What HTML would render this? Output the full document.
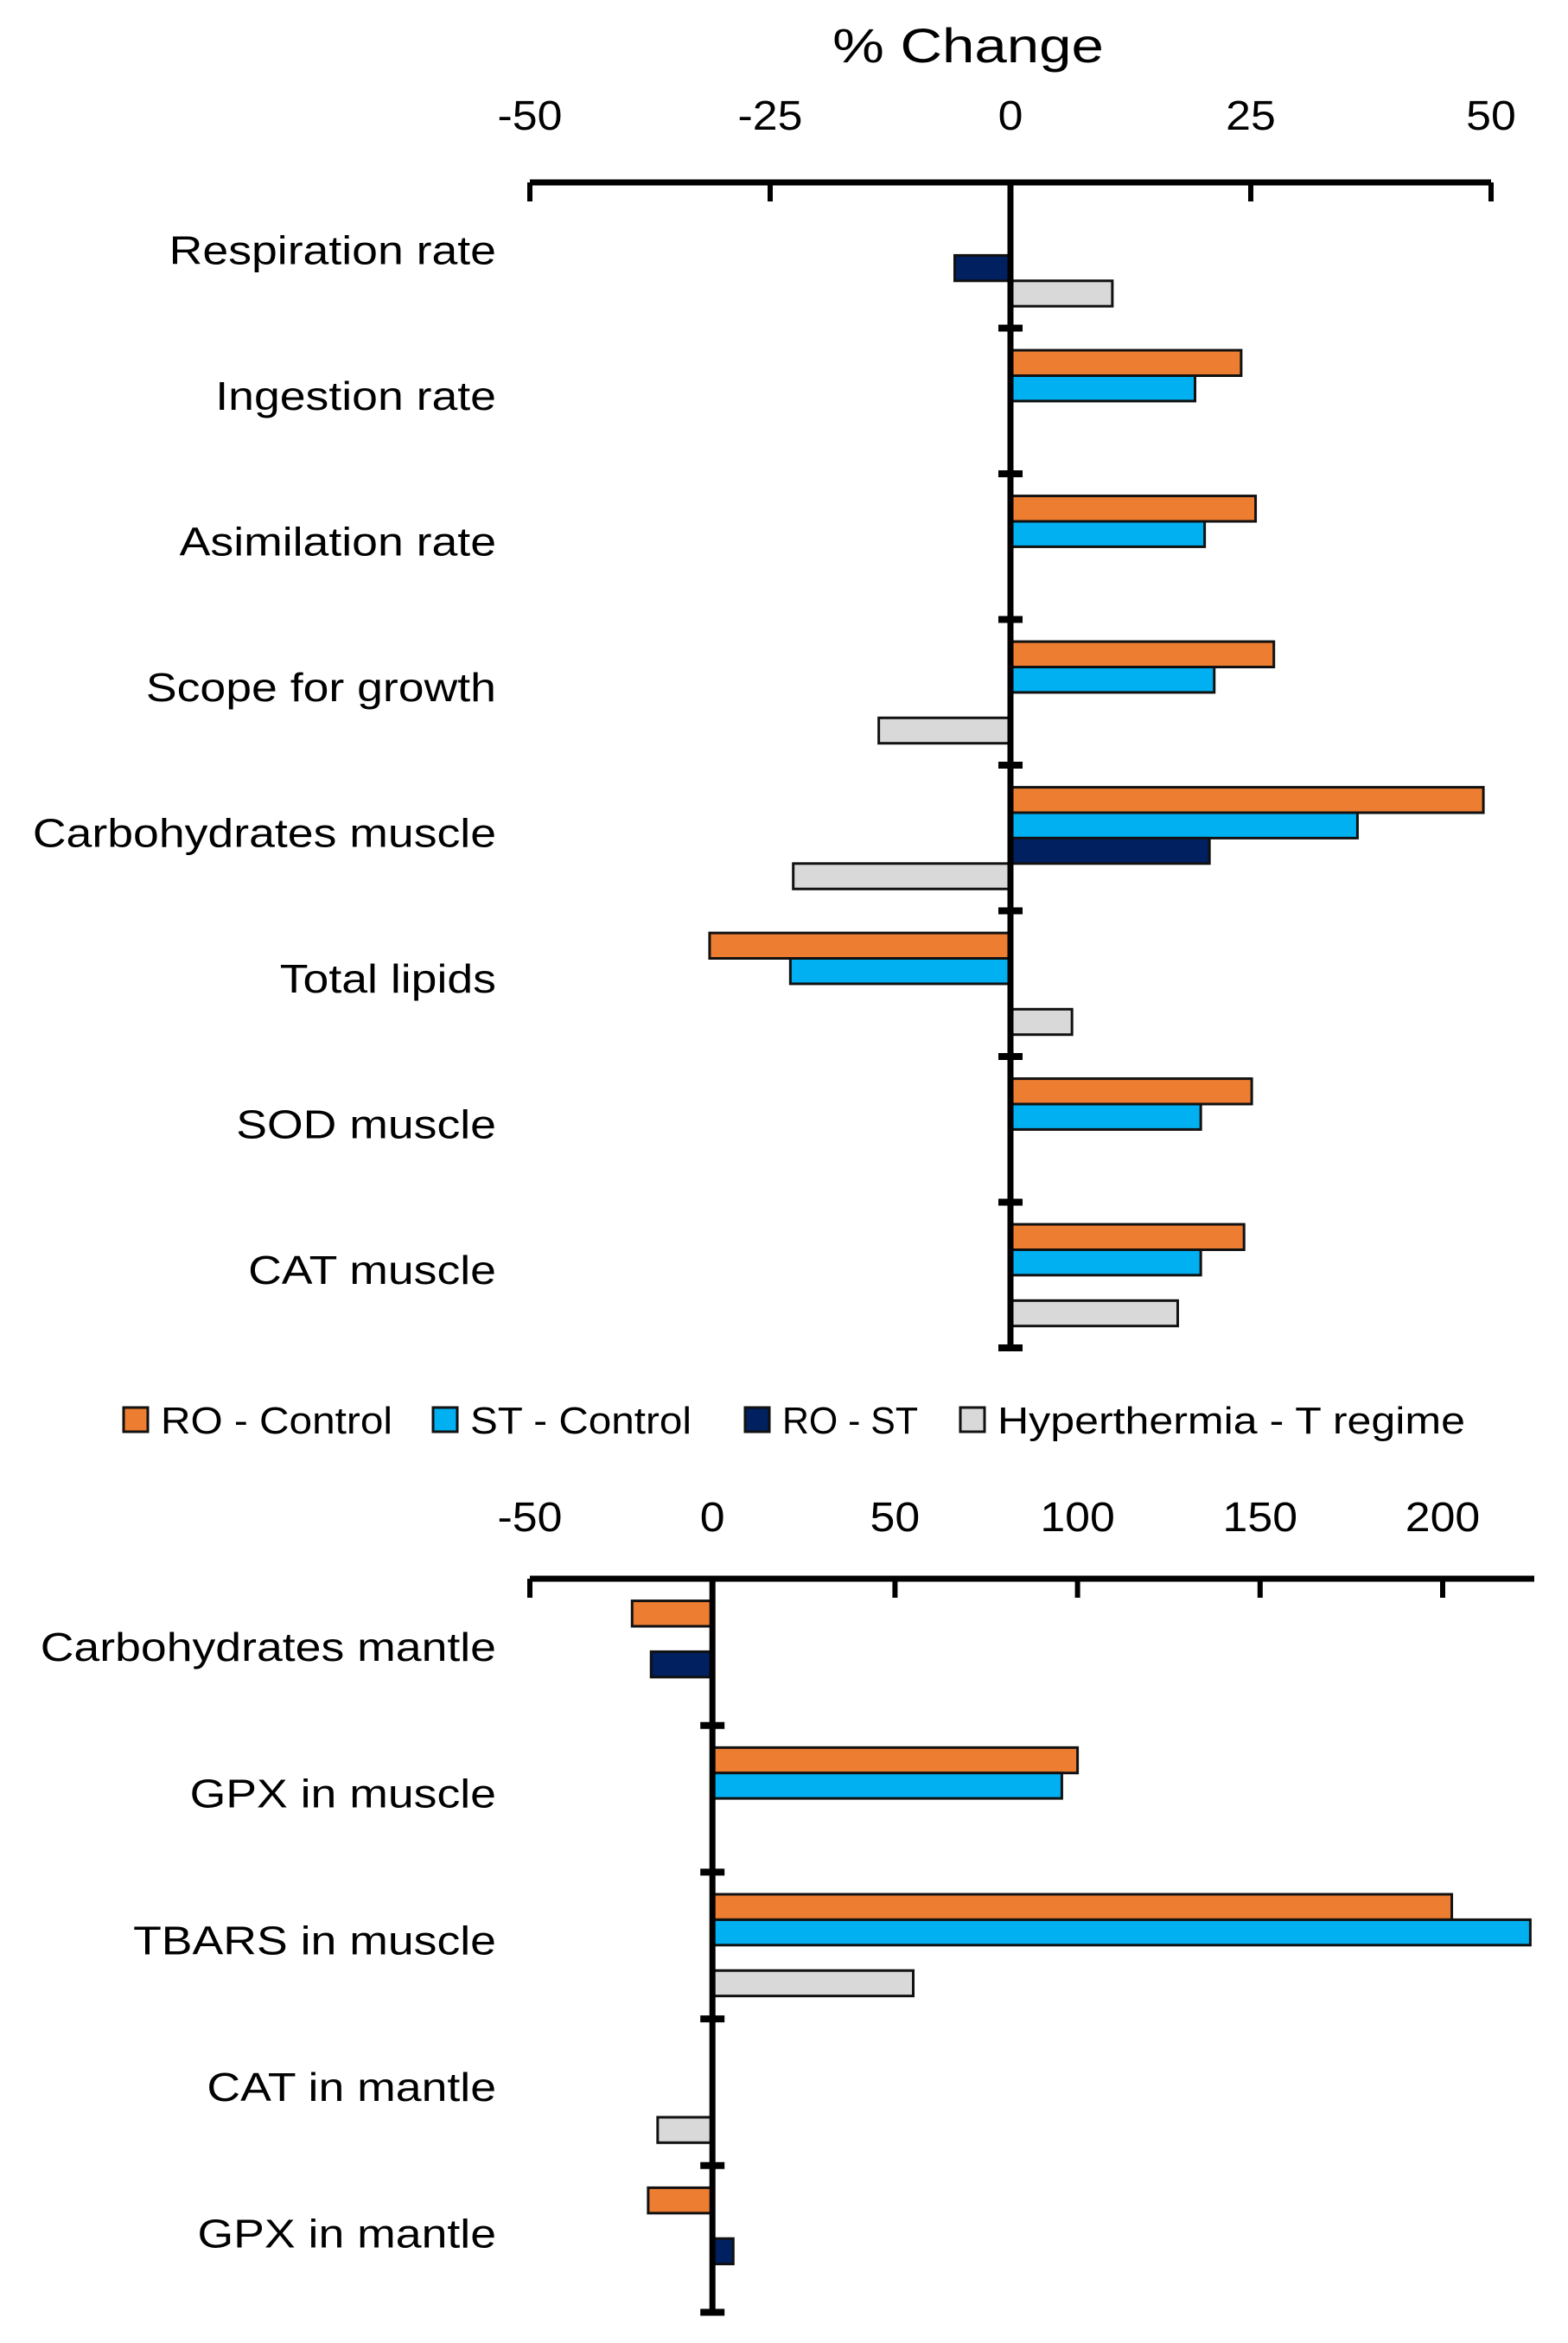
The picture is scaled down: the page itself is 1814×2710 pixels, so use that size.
<!DOCTYPE html>
<html><head><meta charset="utf-8"><style>
html,body{margin:0;padding:0;background:#fff;}
svg{display:block;font-family:"Liberation Sans",sans-serif;}
</style></head><body>
<svg id="chart" width="1814" height="2710" viewBox="0 0 1814 2710" xmlns="http://www.w3.org/2000/svg">
<text id="title" x="1120" y="72" font-size="56" text-anchor="middle" fill="#000">% Change</text>
<g id="top"></g><g id="bottom"></g>
<g id="legend"></g>
</svg>
<script>
const topCategories = ["Respiration rate","Ingestion rate","Asimilation rate","Scope for growth","Carbohydrates muscle","Total lipids","SOD muscle","CAT muscle"];
const topRO = [null,24,25.5,27.4,49.2,-31.3,25.1,24.3];
const topST = [null,19.2,20.2,21.2,36.1,-22.9,19.8,19.8];
const topROST = [-5.8,null,null,null,20.7,null,null,null];
const topHyper = [10.6,null,null,-13.7,-22.6,6.4,null,17.4];
const topTicks = [-50,-25,0,25,50];

const botCategories = ["Carbohydrates mantle","GPX in muscle","TBARS in muscle","CAT in mantle","GPX in mantle"];
const botRO = [-22,100,202.5,null,-17.6];
const botST = [null,95.7,224,null,null];
const botROST = [-16.8,null,null,null,5.7];
const botHyper = [null,null,55,-15,null];
const botTicks = [-50,0,50,100,150,200];

const seriesNames = ["RO - Control","ST - Control","RO - ST","Hyperthermia - T regime"];
const colors = ["#ED7D31","#00B0F0","#002060","#D9D9D9"];
const NS="http://www.w3.org/2000/svg";
function mk(tag,attrs,parent){const e=document.createElementNS(NS,tag);for(const k in attrs)e.setAttribute(k,attrs[k]);parent.appendChild(e);return e;}
function stretch(el,f){const w=el.getComputedTextLength();el.setAttribute('textLength',w*f);el.setAttribute('lengthAdjust','spacingAndGlyphs');}

function drawPanel(g,cats,series,ticks,xmin,xmax,x0px,x1px,axisY,band,axisEnd,tickLabelY,prefix){
  const sx=v=>x0px+(v-xmin)/(xmax-xmin)*(x1px-x0px);
  const n=cats.length;
  const barH=29.4, off=25.6;
  series.forEach((vals,si)=>{
    vals.forEach((v,ci)=>{
      if(v===null)return;
      const y=axisY+ci*band+off+si*barH;
      const xa=sx(0), xb=sx(v);
      const r=mk('rect',{x:Math.min(xa,xb),y:y,width:Math.abs(xb-xa),height:barH,fill:colors[si],stroke:'#111','stroke-width':3},g);
      
      
    });
  });
  const ax=mk('line',{x1:sx(xmin),x2:axisEnd,y1:axisY,y2:axisY,stroke:'#000','stroke-width':7},g);
  
  
  ticks.forEach(t=>{
    mk('line',{x1:sx(t),x2:sx(t),y1:axisY,y2:axisY+22,stroke:'#000','stroke-width':6},g);
    const tl=mk('text',{x:sx(t),y:tickLabelY,'font-size':48,'text-anchor':'middle',fill:'#000'},g);
    tl.textContent=(t<0?'-':'')+Math.abs(t);
    
    
    stretch(tl,1.08);
  });
  const vx=sx(0);
  const va=mk('line',{x1:vx,x2:vx,y1:axisY-3,y2:axisY+n*band,stroke:'#000','stroke-width':7},g);
  
  
  for(let i=1;i<=n;i++){
    mk('line',{x1:vx-14,x2:vx+14,y1:axisY+i*band,y2:axisY+i*band,stroke:'#000','stroke-width':8},g);
  }
  cats.forEach((c,i)=>{
    const t=mk('text',{x:574,y:axisY+i*band+band/2+10,'font-size':46,'text-anchor':'end',fill:'#000'},g);
    t.textContent=c;
    
    
    stretch(t,1.165);
  });
}
drawPanel(document.getElementById('top'),topCategories,[topRO,topST,topROST,topHyper],topTicks,-50,50,613,1725,211,168.5,1725,150,'top');
drawPanel(document.getElementById('bottom'),botCategories,[botRO,botST,botROST,botHyper],botTicks,-50,200,613,1669,1826,169.7,1775,1771,'bottom');

stretch(document.getElementById('title'),1.2);

const lg=document.getElementById('legend');
const legX=[143,501,862,1111];
const legW=[268,256,157,541];
seriesNames.forEach((s,i)=>{
  const r=mk('rect',{x:legX[i],y:1628,width:28,height:28,fill:colors[i],stroke:'#111','stroke-width':3},lg);
  
  
  const t=mk('text',{x:legX[i]+43,y:1658,'font-size':44,fill:'#000',textLength:legW[i],lengthAdjust:'spacingAndGlyphs'},lg);
  t.textContent=s;
  
  
});
</script>
</body></html>
